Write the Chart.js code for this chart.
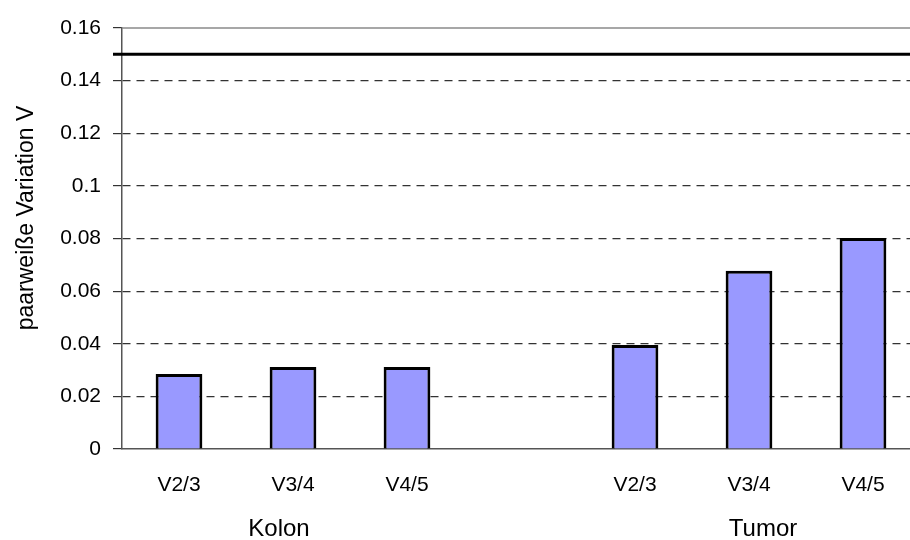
<!DOCTYPE html>
<html>
<head>
<meta charset="utf-8">
<script src="https://cdn.jsdelivr.net/npm/chart.js@4"></script>
<style>
  html, body { margin: 0; padding: 0; overflow: hidden; background: #fff; }
  #wrap { width: 920px; height: 540px; }
</style>
</head>
<body>
<div id="wrap"><canvas id="myChart"></canvas></div>
<script>
// categories: 7 slots, the 4th one is the empty gap between the groups
const labels = ["V2/3", "V3/4", "V4/5", "", "V2/3", "V3/4", "V4/5"];
const values = [0.0285, 0.0312, 0.0312, null, 0.0395, 0.0677, 0.0802];
const groups = ["Kolon", "Tumor"];
const groupIndex = [1, 5]; // which slot each group label sits under
const threshold = 0.15;
const yTicks = [0, 0.02, 0.04, 0.06, 0.08, 0.1, 0.12, 0.14, 0.16];
const yTitle = "paarweiße Variation V";

const font = "'Liberation Sans', Arial, sans-serif";

// draws the 0.15 line, the top border, the axis title and the group names
const extras = {
  id: "extras",
  afterDatasetsDraw(chart) {
    let ctx = chart.ctx;
    let area = chart.chartArea;
    let y = chart.scales.y;
    let x = chart.scales.x;
    ctx.save();
    // top border at 0.16
    ctx.strokeStyle = "#8a8a8a";
    ctx.lineWidth = 1.5;
    ctx.beginPath();
    ctx.moveTo(area.left, y.getPixelForValue(0.16));
    ctx.lineTo(area.right, y.getPixelForValue(0.16));
    ctx.stroke();
    // threshold line
    ctx.strokeStyle = "#000";
    ctx.lineWidth = 3;
    ctx.beginPath();
    ctx.moveTo(area.left - 9, y.getPixelForValue(threshold));
    ctx.lineTo(area.right, y.getPixelForValue(threshold));
    ctx.stroke();
    // group labels
    ctx.fillStyle = "#000";
    ctx.font = "24px " + font;
    ctx.textAlign = "center";
    ctx.textBaseline = "middle";
    ctx.fillText(groups[0], x.getPixelForValue(groupIndex[0]) - 14, 529);
    ctx.fillText(groups[1], x.getPixelForValue(groupIndex[1]) + 14, 529);
    // y axis title
    ctx.translate(27, 218);
    ctx.rotate(-Math.PI / 2);
    ctx.font = "23px " + font;
    ctx.fillText(yTitle, 0, 0);
    ctx.restore();
  },
};

const data = {
  labels: labels,
  datasets: [
    {
      data: values,
      backgroundColor: "#9999ff",
      borderColor: "#000",
      borderWidth: 3,
      barPercentage: 0.41,
      categoryPercentage: 1,
    },
  ],
};

const config = {
  type: "bar",
  data,
  options: {
    responsive: true,
    maintainAspectRatio: false,
    animation: false,
    layout: { padding: { top: 28, left: 0, right: 0, bottom: 0 } },
    plugins: { legend: { display: false }, tooltip: { enabled: false } },
    scales: {
      x: {
        grid: { display: false },
        border: { color: "#555", width: 1.5 },
        ticks: { color: "#000", font: { family: font, size: 21 }, padding: 16, maxRotation: 0 },
        afterFit(scale) { scale.height = 91; },
      },
      y: {
        min: 0,
        max: 0.16,
        afterBuildTicks(scale) { scale.ticks = yTicks.map(v => ({ value: v })); },
        grid: {
          color: ctx => (ctx.tick && ctx.tick.value > 0 && ctx.tick.value < 0.16 ? "#333" : "rgba(0,0,0,0)"),
          tickColor: "#333",
          tickLength: 9,
          lineWidth: 1.2,
        },
        border: { color: "#555", width: 1.5, dash: [8, 6] },
        ticks: {
          color: "#000",
          font: { family: font, size: 21 },
          padding: 12,
          callback: v => String(v),
        },
        afterFit(scale) { scale.width = 122; },
      },
    },
  },
  plugins: [extras],
};

var variationChart = new Chart(document.getElementById("myChart"), config);
</script>
</body>
</html>
